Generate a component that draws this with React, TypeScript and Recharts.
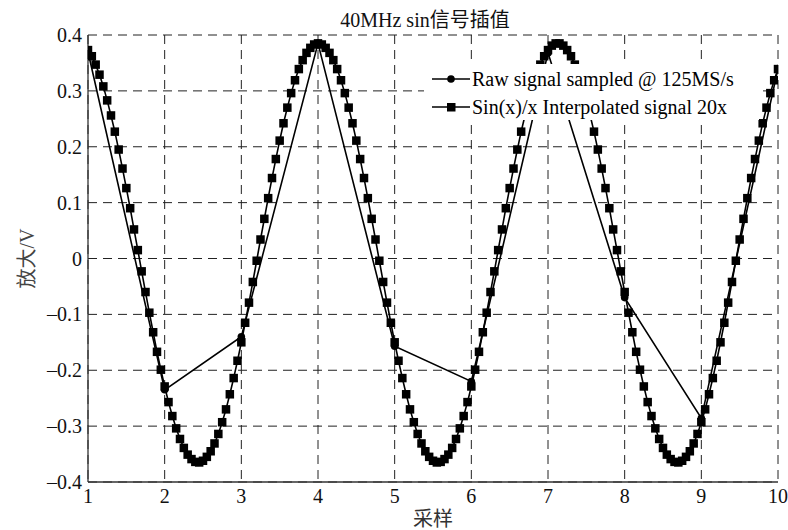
import React from 'react';
import { LineChart, Line, XAxis, YAxis, CartesianGrid, Legend } from 'recharts';

const titleText = '40MHz sin信号插值';
const xLabel = '采样';
const yLabel = '放大/V';
const rawName = 'Raw signal sampled @ 125MS/s';
const interpName = 'Sin(x)/x Interpolated signal 20x';

const xTicks = [1, 2, 3, 4, 5, 6, 7, 8, 9, 10];
const yTicks = [-0.4, -0.3, -0.2, -0.1, 0, 0.1, 0.2, 0.3, 0.4];

const rawX = [1, 2, 3, 4, 5, 6, 7, 8, 9, 10];
const rawY = [0.37, -0.235, -0.14, 0.385, -0.157, -0.22, 0.368, -0.07, -0.286, 0.34];

// interpolated samples, 20 per raw sample interval, starting at x = 1
const interpStartX = 1;
const interpPerSample = 20;
const interpY = [
  0.373, 0.362, 0.347, 0.329, 0.308, 0.283, 0.256, 0.227, 0.195, 0.161,
  0.126, 0.090, 0.052, 0.015, -0.023, -0.060, -0.097, -0.132, -0.167, -0.199,
  -0.229, -0.257, -0.282, -0.304, -0.323, -0.339, -0.351, -0.359, -0.364, -0.365,
  -0.362, -0.355, -0.345, -0.331, -0.314, -0.293, -0.270, -0.243, -0.214, -0.183,
  -0.150, -0.115, -0.079, -0.042, -0.004, 0.034, 0.071, 0.108, 0.144, 0.178,
  0.211, 0.242, 0.270, 0.296, 0.319, 0.339, 0.355, 0.368, 0.377, 0.383,
  0.385,
  0.383, 0.377, 0.368, 0.355, 0.339, 0.319, 0.296, 0.270, 0.242, 0.211,
  0.178, 0.144, 0.108, 0.071, 0.034, -0.004, -0.042, -0.079, -0.115, -0.150,
  -0.183, -0.214, -0.243, -0.270, -0.293, -0.314, -0.331, -0.345, -0.355, -0.362,
  -0.365, -0.364, -0.359, -0.351, -0.339, -0.323, -0.304, -0.282, -0.257, -0.229,
  -0.199, -0.167, -0.132, -0.097, -0.060, -0.023, 0.015, 0.052, 0.090, 0.126,
  0.161, 0.195, 0.227, 0.256, 0.283, 0.308, 0.329, 0.347, 0.362, 0.373,
  0.381, 0.385, 0.385, 0.381,
  0.373, 0.362, 0.347, 0.329, 0.308, 0.283, 0.256, 0.227, 0.195, 0.161,
  0.126, 0.090, 0.052, 0.015, -0.023, -0.060, -0.097, -0.132, -0.167, -0.199,
  -0.229, -0.257, -0.282, -0.304, -0.323, -0.339, -0.351, -0.359, -0.364, -0.365,
  -0.362, -0.355, -0.345, -0.331, -0.314, -0.293, -0.270, -0.243, -0.214, -0.183,
  -0.150, -0.115, -0.079, -0.042, -0.004, 0.034, 0.071, 0.108, 0.144, 0.178,
  0.211, 0.242, 0.270, 0.296, 0.319, 0.339,
];

const rawData = rawX.map((x, i) => ({ x, y: rawY[i] }));
const interpData = interpY.map((y, i) => ({ x: interpStartX + i / interpPerSample, y }));

const FONT = '"Liberation Serif", "Times New Roman", "Noto Sans CJK SC", serif';

const fmtY = (v: number) => {
  const r = Math.round(v * 10) / 10;
  if (r === 0) return '0';
  return r < 0 ? '\u2013' + Math.abs(r).toString() : r.toString();
};

const SquareDot = (props: any) => {
  const { cx, cy, index } = props;
  if (cx == null || cy == null) return <g key={'s' + index} />;
  return <rect key={'s' + index} x={cx - 4.25} y={cy - 4.25} width={8.5} height={8.5} fill="#000" />;
};

const CircleDot = (props: any) => {
  const { cx, cy, index } = props;
  if (cx == null || cy == null) return <g key={'c' + index} />;
  return <circle key={'c' + index} cx={cx} cy={cy} r={3.8} fill="#000" />;
};

const renderLegend = () => (
  <div style={{ background: '#fff', width: 335, height: 56 }}>
    <svg width={335} height={56} style={{ display: 'block' }}>
      <line x1={8} x2={46} y1={15} y2={15} stroke="#000" strokeWidth={1.5} />
      <circle cx={27} cy={15} r={3.8} fill="#000" />
      <text x={48} y={22} fontFamily={FONT} fontSize={20} fill="#000">{rawName}</text>
      <line x1={8} x2={46} y1={43} y2={43} stroke="#000" strokeWidth={1.5} />
      <rect x={23} y={39} width={8.5} height={8.5} fill="#000" />
      <text x={48} y={50} fontFamily={FONT} fontSize={20} fill="#000">{interpName}</text>
    </svg>
  </div>
);

export default function App() {
  return (
    <div style={{ position: 'absolute', left: 0, top: 0, width: 788, height: 530, background: '#fff', fontFamily: FONT }}>
      <div
        style={{
          position: 'absolute',
          left: 225,
          top: 9,
          width: 400,
          textAlign: 'center',
          fontSize: 20,
          color: '#111',
          fontFamily: FONT,
          lineHeight: '23px',
        }}
      >
        {titleText}
      </div>
      <LineChart width={788} height={530} margin={{ top: 35, right: 10, left: 0, bottom: 0 }}>
        <CartesianGrid stroke="#222" strokeDasharray="9 6" strokeWidth={1} />
        <XAxis
          dataKey="x"
          type="number"
          domain={[1, 10]}
          ticks={xTicks}
          allowDataOverflow
          height={48}
          tickLine={false}
          tickSize={0}
          tickMargin={7}
          axisLine={{ stroke: '#333', strokeWidth: 1.3 }}
          tick={{ fill: '#111', fontSize: 20, fontFamily: FONT }}
          label={{ value: xLabel, position: 'insideBottom', offset: 4, fill: '#333', fontSize: 20, fontFamily: FONT }}
        />
        <XAxis
          xAxisId="top"
          orientation="top"
          type="number"
          domain={[1, 10]}
          ticks={xTicks}
          allowDataOverflow
          height={0}
          tick={false}
          tickLine={false}
          axisLine={{ stroke: '#333', strokeWidth: 1.3 }}
        />
        <YAxis
          dataKey="y"
          type="number"
          domain={[-0.4, 0.4]}
          ticks={yTicks}
          allowDataOverflow
          width={88}
          tickLine={false}
          tickSize={0}
          tickMargin={6}
          tickFormatter={fmtY}
          axisLine={{ stroke: '#333', strokeWidth: 1.3 }}
          tick={{ fill: '#111', fontSize: 20, fontFamily: FONT }}
          label={{ value: yLabel, angle: -90, position: 'insideLeft', offset: 27, fill: '#444', fontSize: 20, fontFamily: FONT, style: { textAnchor: 'middle' } }}
        />
        <YAxis
          yAxisId="right"
          orientation="right"
          type="number"
          domain={[-0.4, 0.4]}
          ticks={yTicks}
          allowDataOverflow
          width={0}
          tick={false}
          tickLine={false}
          axisLine={{ stroke: '#333', strokeWidth: 1.3 }}
        />
        <Line
          data={interpData}
          dataKey="y"
          name={interpName}
          type="linear"
          stroke="#000"
          strokeWidth={1.6}
          dot={SquareDot}
          activeDot={false}
          isAnimationActive={false}
        />
        <Line
          data={rawData}
          dataKey="y"
          name={rawName}
          type="linear"
          stroke="#000"
          strokeWidth={1.6}
          dot={CircleDot}
          activeDot={false}
          isAnimationActive={false}
        />
        <Legend
          layout="horizontal"
          verticalAlign="middle"
          align="center"
          content={renderLegend}
          wrapperStyle={{ left: 424, top: 64, width: 335, height: 56 }}
        />
      </LineChart>
    </div>
  );
}
